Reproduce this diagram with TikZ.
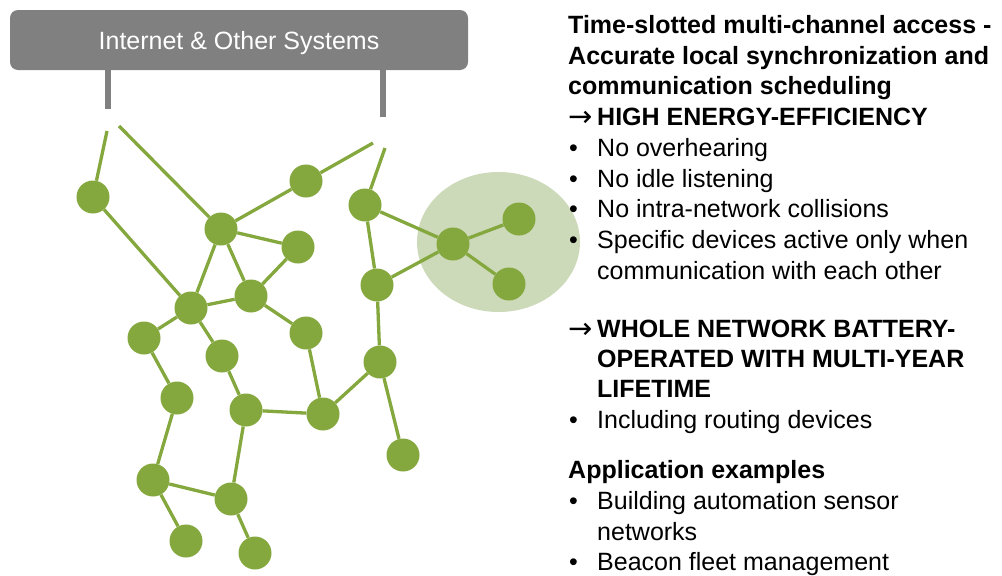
\documentclass[tikz,border=0pt]{standalone}
\usepackage{fontspec}
\setmainfont{Liberation Sans}
\newfontfamily\arrowfont{DejaVu Sans}
\definecolor{leaf}{RGB}{132,167,62}
\definecolor{halo}{RGB}{205,218,185}
\definecolor{hdrgray}{RGB}{128,128,128}
\begin{document}
\begin{tikzpicture}[x=1pt,y=-1pt,
  dev/.style={circle,fill=leaf,minimum size=33pt,inner sep=0pt},
  link/.style={draw=leaf,line width=3.3pt},
  stub/.style={draw=hdrgray,line width=5.5pt},
  txt/.style={anchor=base west,inner sep=0pt,font=\fontsize{25}{30}\selectfont},
  btxt/.style={txt,font=\fontsize{25}{30}\selectfont\bfseries},
  arr/.style={anchor=base west,inner sep=0pt,font=\fontsize{29}{30}\arrowfont}]
\useasboundingbox (0,0) rectangle (1002,576);
% header
\node[fill=hdrgray,rounded corners=8pt,minimum width=458pt,minimum height=60pt,inner sep=0pt,
  text height=18pt,text depth=0pt,
  text=white,font=\fontsize{25}{30}\selectfont] (hdr) at (239,40) {Internet \& Other Systems};
\coordinate (s1) at (108,109);
\coordinate (s2) at (383,117);
\draw[stub] (hdr.south -| s1) -- (s1);
\draw[stub] (hdr.south -| s2) -- (s2);
% halo
\fill[halo] (498.5,242) ellipse [x radius=81.5pt, y radius=70pt];
% free ends
\coordinate (f1) at (107,131);
\coordinate (f2) at (119,126);
\coordinate (f3) at (373,143);
\coordinate (f4) at (385,148);
% devices
\node[dev] (n1) at (93,197) {};
\node[dev] (n2) at (221,229) {};
\node[dev] (n3) at (191,308) {};
\node[dev] (n4) at (251,296) {};
\node[dev] (n5) at (144,338) {};
\node[dev] (n6) at (222,356) {};
\node[dev] (n7) at (298,247) {};
\node[dev] (n8) at (306,181) {};
\node[dev] (n9) at (306,333) {};
\node[dev] (n10) at (365,205) {};
\node[dev] (n11) at (377,285) {};
\node[dev] (hub) at (453,244) {};
\node[dev] (h1) at (519,219) {};
\node[dev] (h2) at (509,284) {};
\node[dev] (l3) at (380,362) {};
\node[dev] (l4) at (177,398) {};
\node[dev] (l5) at (246,410) {};
\node[dev] (l6) at (323,414) {};
\node[dev] (l7) at (403,455) {};
\node[dev] (l8) at (153,480) {};
\node[dev] (l9) at (231,499) {};
\node[dev] (l10) at (186,541) {};
\node[dev] (l11) at (255,553) {};
% links
\draw[link] (f1) -- (n1);
\draw[link] (f2) -- (n2);
\draw[link] (f3) -- (n8);
\draw[link] (f4) -- (n10);
\draw[link] (n1) -- (n3);
\draw[link] (n2) -- (n8);
\draw[link] (n2) -- (n7);
\draw[link] (n2) -- (n3);
\draw[link] (n2) -- (n4);
\draw[link] (n7) -- (n4);
\draw[link] (n3) -- (n4);
\draw[link] (n3) -- (n5);
\draw[link] (n3) -- (n6);
\draw[link] (n4) -- (n9);
\draw[link] (n10) -- (n11);
\draw[link] (n10) -- (hub);
\draw[link] (n11) -- (hub);
\draw[link] (hub) -- (h1);
\draw[link] (hub) -- (h2);
\draw[link] (n11) -- (l3);
\draw[link] (l3) -- (l6);
\draw[link] (l3) -- (l7);
\draw[link] (n9) -- (l6);
\draw[link] (l6) -- (l5);
\draw[link] (n6) -- (l5);
\draw[link] (l5) -- (l9);
\draw[link] (l9) -- (l11);
\draw[link] (l9) -- (l8);
\draw[link] (l8) -- (l4);
\draw[link] (l4) -- (n5);
\draw[link] (l8) -- (l10);
% text
\node[btxt] (t1) at (568,33) {Time-slotted multi-channel access -};
\node[btxt] (t2) at (568,64) {Accurate local synchronization and};
\node[btxt] (t3) at (568,94) {communication scheduling};
\node[arr] (a1) at (568,126) {→};
\node[btxt] (t4) at (597,125) {HIGH ENERGY-EFFICIENCY};
\node[txt] (b1) at (569,156) {•};
\node[txt] (t5) at (597,156) {No overhearing};
\node[txt] (b2) at (569,187) {•};
\node[txt] (t6) at (597,187) {No idle listening};
\node[txt] (b3) at (569,217) {•};
\node[txt] (t7) at (597,217) {No intra-network collisions};
\node[txt] (b4) at (569,248) {•};
\node[txt] (t8) at (597,248) {Specific devices active only when};
\node[txt] (t9) at (597,279) {communication with each other};
\node[arr] (a2) at (568,338) {→};
\node[btxt] (t10) at (597,337) {WHOLE NETWORK BATTERY-};
\node[btxt] (t11) at (597,367) {OPERATED WITH MULTI-YEAR};
\node[btxt] (t12) at (597,397) {LIFETIME};
\node[txt] (b5) at (569,428) {•};
\node[txt] (t13) at (597,428) {Including routing devices};
\node[btxt] (t14) at (568,478) {Application examples};
\node[txt] (b6) at (569,509) {•};
\node[txt] (t15) at (597,509) {Building automation sensor};
\node[txt] (t16) at (597,540) {networks};
\node[txt] (b7) at (569,570) {•};
\node[txt] (t17) at (597,570) {Beacon fleet management};
\end{tikzpicture}
\end{document}
